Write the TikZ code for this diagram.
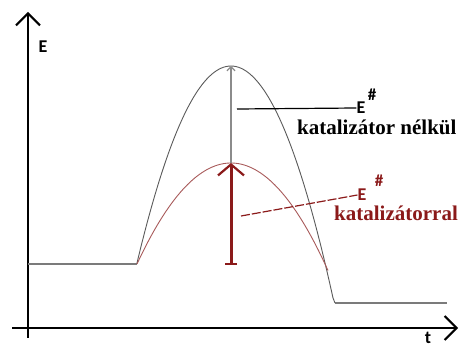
\documentclass[tikz,border=0pt]{standalone}
\usepackage{fontspec}
\setmainfont{Liberation Serif}
\newfontfamily\carlito{Carlito}
\usetikzlibrary{arrows.meta}
\definecolor{dred}{HTML}{8B1A1A}
\definecolor{lred}{HTML}{A85A5A}
\definecolor{cgray}{HTML}{5A5A5A}
\tikzset{
  axis/.style={line width=2pt, black, -{Straight Barb[length=12pt,width=24pt,line width=2pt]}},
  ecurve/.style={cgray, line width=0.9pt},
  rcurve/.style={lred, line width=0.9pt},
  lvl/.style={cgray!80, line width=1.2pt},
  lbl/.style={font=\bfseries\fontsize{21}{21}\selectfont, inner sep=0pt},
  esym/.style={font=\carlito\bfseries\fontsize{18}{18}\selectfont, inner sep=0pt},
  hsym/.style={font=\carlito\bfseries\fontsize{17}{17}\selectfont, inner sep=0pt}
}
\begin{document}
\begin{tikzpicture}[x=1pt,y=-1pt]
\useasboundingbox (0,0) rectangle (467,345);
% axes
\coordinate (o1) at (28,338);
\coordinate (ytop) at (28,12);
\coordinate (o2) at (12,328);
\coordinate (xend) at (458,328);
\draw[axis] (o1) -- (ytop);
\draw[axis] (o2) -- (xend);
\node[esym] (E) at (43,47) {E};
\node[esym, anchor=north] (t) at (428,332) {t};
% levels
\coordinate (a0) at (28,264);
\coordinate (a1) at (137,264);
\coordinate (b0) at (335,303);
\coordinate (b1) at (447,303);
\draw[lvl] (a0) -- (a1);
\draw[lvl] (b0) -- (b1);
% curves
\draw[ecurve] (a1) -- plot[domain=137:333, samples=80, smooth] (\x,{66+0.0223*(\x-231)*(\x-231)}) -- (b0);
\draw[rcurve] plot[domain=137:328, samples=80, smooth] (\x,{163+0.01143*(\x-231)*(\x-231)});
% activation arrows
\coordinate (pk) at (231,66);
\coordinate (rp) at (231,163);
\coordinate (rb) at (231,265);
\draw[cgray!70, line width=1.2pt, -{Straight Barb[length=4pt,width=8pt]}] (rp) -- (pk);
\draw[dred, line width=3pt, {Bar[width=12pt,line width=1.5pt]}-{Straight Barb[length=11pt,width=26pt,line width=2.2pt]}] (rb) -- (rp);
% labels
\node[esym] (E1) at (361,108) {E};
\node[hsym] (h1) at (372,95) {\#};
\node[lbl, anchor=base west] (k1) at (297,135) {katalizátor nélkül};
\coordinate (l1) at (237,109);
\draw[black, line width=1.2pt] (l1) -- (E1.west);
\node[esym, text=dred] (E2) at (362,195) {E};
\node[hsym, text=dred] (h2) at (379,181) {\#};
\node[lbl, text=dred, anchor=base west] (k2) at (334,221) {katalizátorral};
\coordinate (l2) at (241,216);
\draw[dred, line width=1.2pt, dash pattern=on 9pt off 2pt] (l2) -- (E2.west);
\end{tikzpicture}
\end{document}
